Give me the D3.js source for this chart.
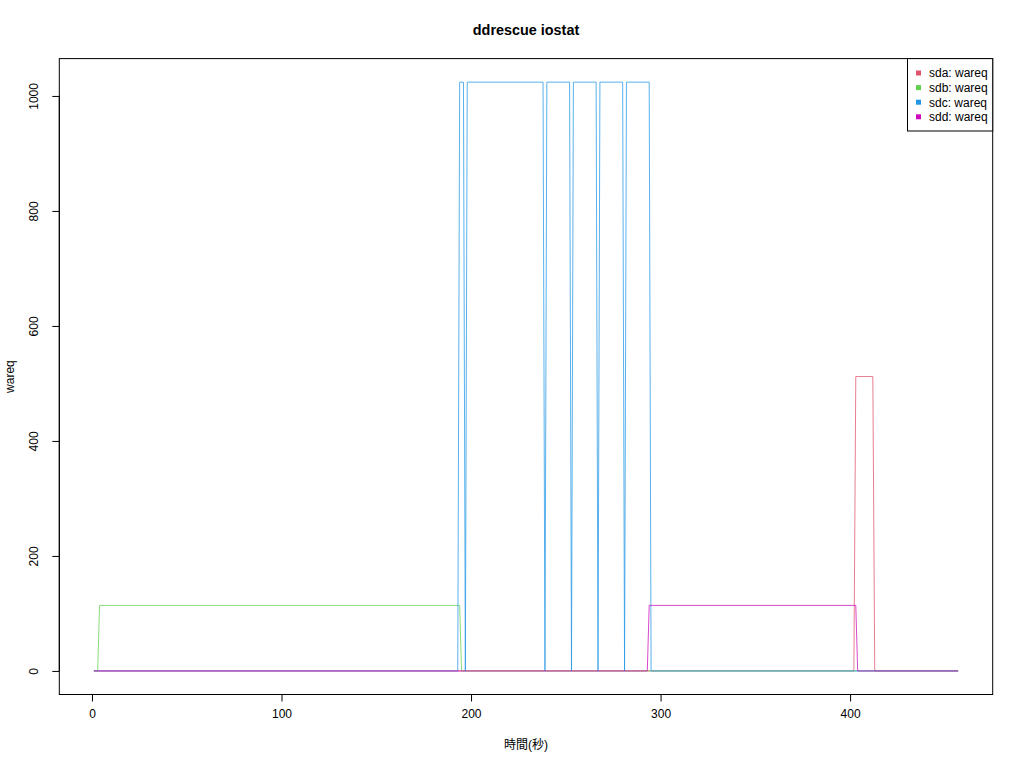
<!DOCTYPE html>
<html><head><meta charset="utf-8">
<script src="https://cdn.jsdelivr.net/npm/d3@7"></script>
<style>
body{margin:0;background:#fff;}
text{font-family:"Liberation Sans",Arial,"Noto Sans CJK JP",sans-serif;}
</style>
</head><body>
<svg id="c" width="1024" height="768"></svg>
<script>
// Data: breakpoints (time in seconds, wareq value) for each device
const sdaTime  = [1, 402, 403, 412, 413, 457];
const sdaValue = [0, 0, 512, 512, 0, 0];
const sdbTime  = [1, 3, 4, 194, 195, 457];
const sdbValue = [0, 0, 114, 114, 0, 0];
const sdcTime  = [1, 193, 194, 196, 197, 198, 238, 239, 240, 252, 253, 254, 266, 267, 268, 280, 281, 282, 294, 295, 457];
const sdcValue = [0, 0, 1024, 1024, 0, 1024, 1024, 0, 1024, 1024, 0, 1024, 1024, 0, 1024, 1024, 0, 1024, 1024, 0, 0];
const sddTime  = [1, 293, 294, 403, 404, 457];
const sddValue = [0, 0, 114, 114, 0, 0];
const seriesNames = ["sda: wareq", "sdb: wareq", "sdc: wareq", "sdd: wareq"];
const seriesColors = ["#DF536B", "#61D04F", "#2297E6", "#CD0BBC"];
const xTicks = [0, 100, 200, 300, 400];
const yTicks = [0, 200, 400, 600, 800, 1000];
const title = "ddrescue iostat";
const xLabel = "時間(秒)";
const yLabel = "wareq";

const series = [
  {t: sdaTime, v: sdaValue},
  {t: sdbTime, v: sdbValue},
  {t: sdcTime, v: sdcValue},
  {t: sddTime, v: sddValue}
];

const svg = d3.select("#c");
const L = 59.3, R = 992.7, T = 58.6, B = 694.5;

const allT = series.flatMap(s => s.t), allV = series.flatMap(s => s.v);
const tMin = d3.min(allT), tMax = d3.max(allT);
const vMin = d3.min(allV), vMax = d3.max(allV);
const tPad = (tMax - tMin) * 0.04, vPad = (vMax - vMin) * 0.04;

const x = d3.scaleLinear().domain([tMin - tPad, tMax + tPad]).range([L, R]);
const y = d3.scaleLinear().domain([vMin - vPad, vMax + vPad]).range([B, T]);

// lines
const line = d3.line().x(d => x(d[0])).y(d => y(d[1]));
series.forEach((s, i) => {
  const pts = s.t.map((t, j) => [t, s.v[j]]);
  svg.append("path").attr("d", line(pts))
    .attr("fill", "none").attr("stroke", seriesColors[i])
    .attr("stroke-width", 1).attr("stroke-opacity", 0.75);
});

// box
svg.append("rect").attr("x", L).attr("y", T).attr("width", R - L).attr("height", B - T)
  .attr("fill", "none").attr("stroke", "#000").attr("stroke-width", 1);

// x axis
const xa = svg.append("g").attr("transform", `translate(0,${B})`)
  .call(d3.axisBottom(x).tickValues(xTicks).tickSize(7).tickPadding(8).tickFormat(d3.format("d")));
xa.select(".domain").attr("d", `M${x(xTicks[0])},0H${x(xTicks[xTicks.length-1])}`);
xa.selectAll("text").attr("font-size", 12).attr("font-family", "Liberation Sans, Arial, sans-serif");

// y axis
const ya = svg.append("g").attr("transform", `translate(${L},0)`)
  .call(d3.axisLeft(y).tickValues(yTicks).tickSize(7).tickFormat(d3.format("d")));
ya.select(".domain").attr("d", `M0,${y(yTicks[0])}V${y(yTicks[yTicks.length-1])}`);
ya.selectAll(".tick text").attr("font-size", 12).attr("font-family", "Liberation Sans, Arial, sans-serif")
  .attr("text-anchor", "middle").attr("dy", null).attr("x", null)
  .attr("transform", "translate(-21,0) rotate(-90)");

// title and labels
svg.append("text").attr("x", (L + R) / 2).attr("y", 35).attr("text-anchor", "middle")
  .attr("font-size", 14.4).attr("font-weight", "bold").text(title);
svg.append("text").attr("x", (L + R) / 2).attr("y", 749).attr("text-anchor", "middle")
  .attr("font-size", 12).attr("font-family", "Noto Sans CJK JP, sans-serif").text(xLabel);
svg.append("text").attr("transform", `translate(14,${(T + B) / 2}) rotate(-90)`)
  .attr("text-anchor", "middle").attr("font-size", 12).text(yLabel);

// legend
const lg = svg.append("g");
lg.append("rect").attr("x", 907.5).attr("y", T).attr("width", R - 907.5).attr("height", 131 - T)
  .attr("fill", "#fff").attr("stroke", "#000").attr("stroke-width", 1);
seriesNames.forEach((n, i) => {
  const cy = 73 + i * 14.6;
  lg.append("rect").attr("x", 916).attr("y", cy - 2.5).attr("width", 5).attr("height", 5).attr("fill", seriesColors[i]);
  lg.append("text").attr("x", 929).attr("y", cy + 4.3).attr("font-size", 12).text(n);
});
</script>
</body></html>
